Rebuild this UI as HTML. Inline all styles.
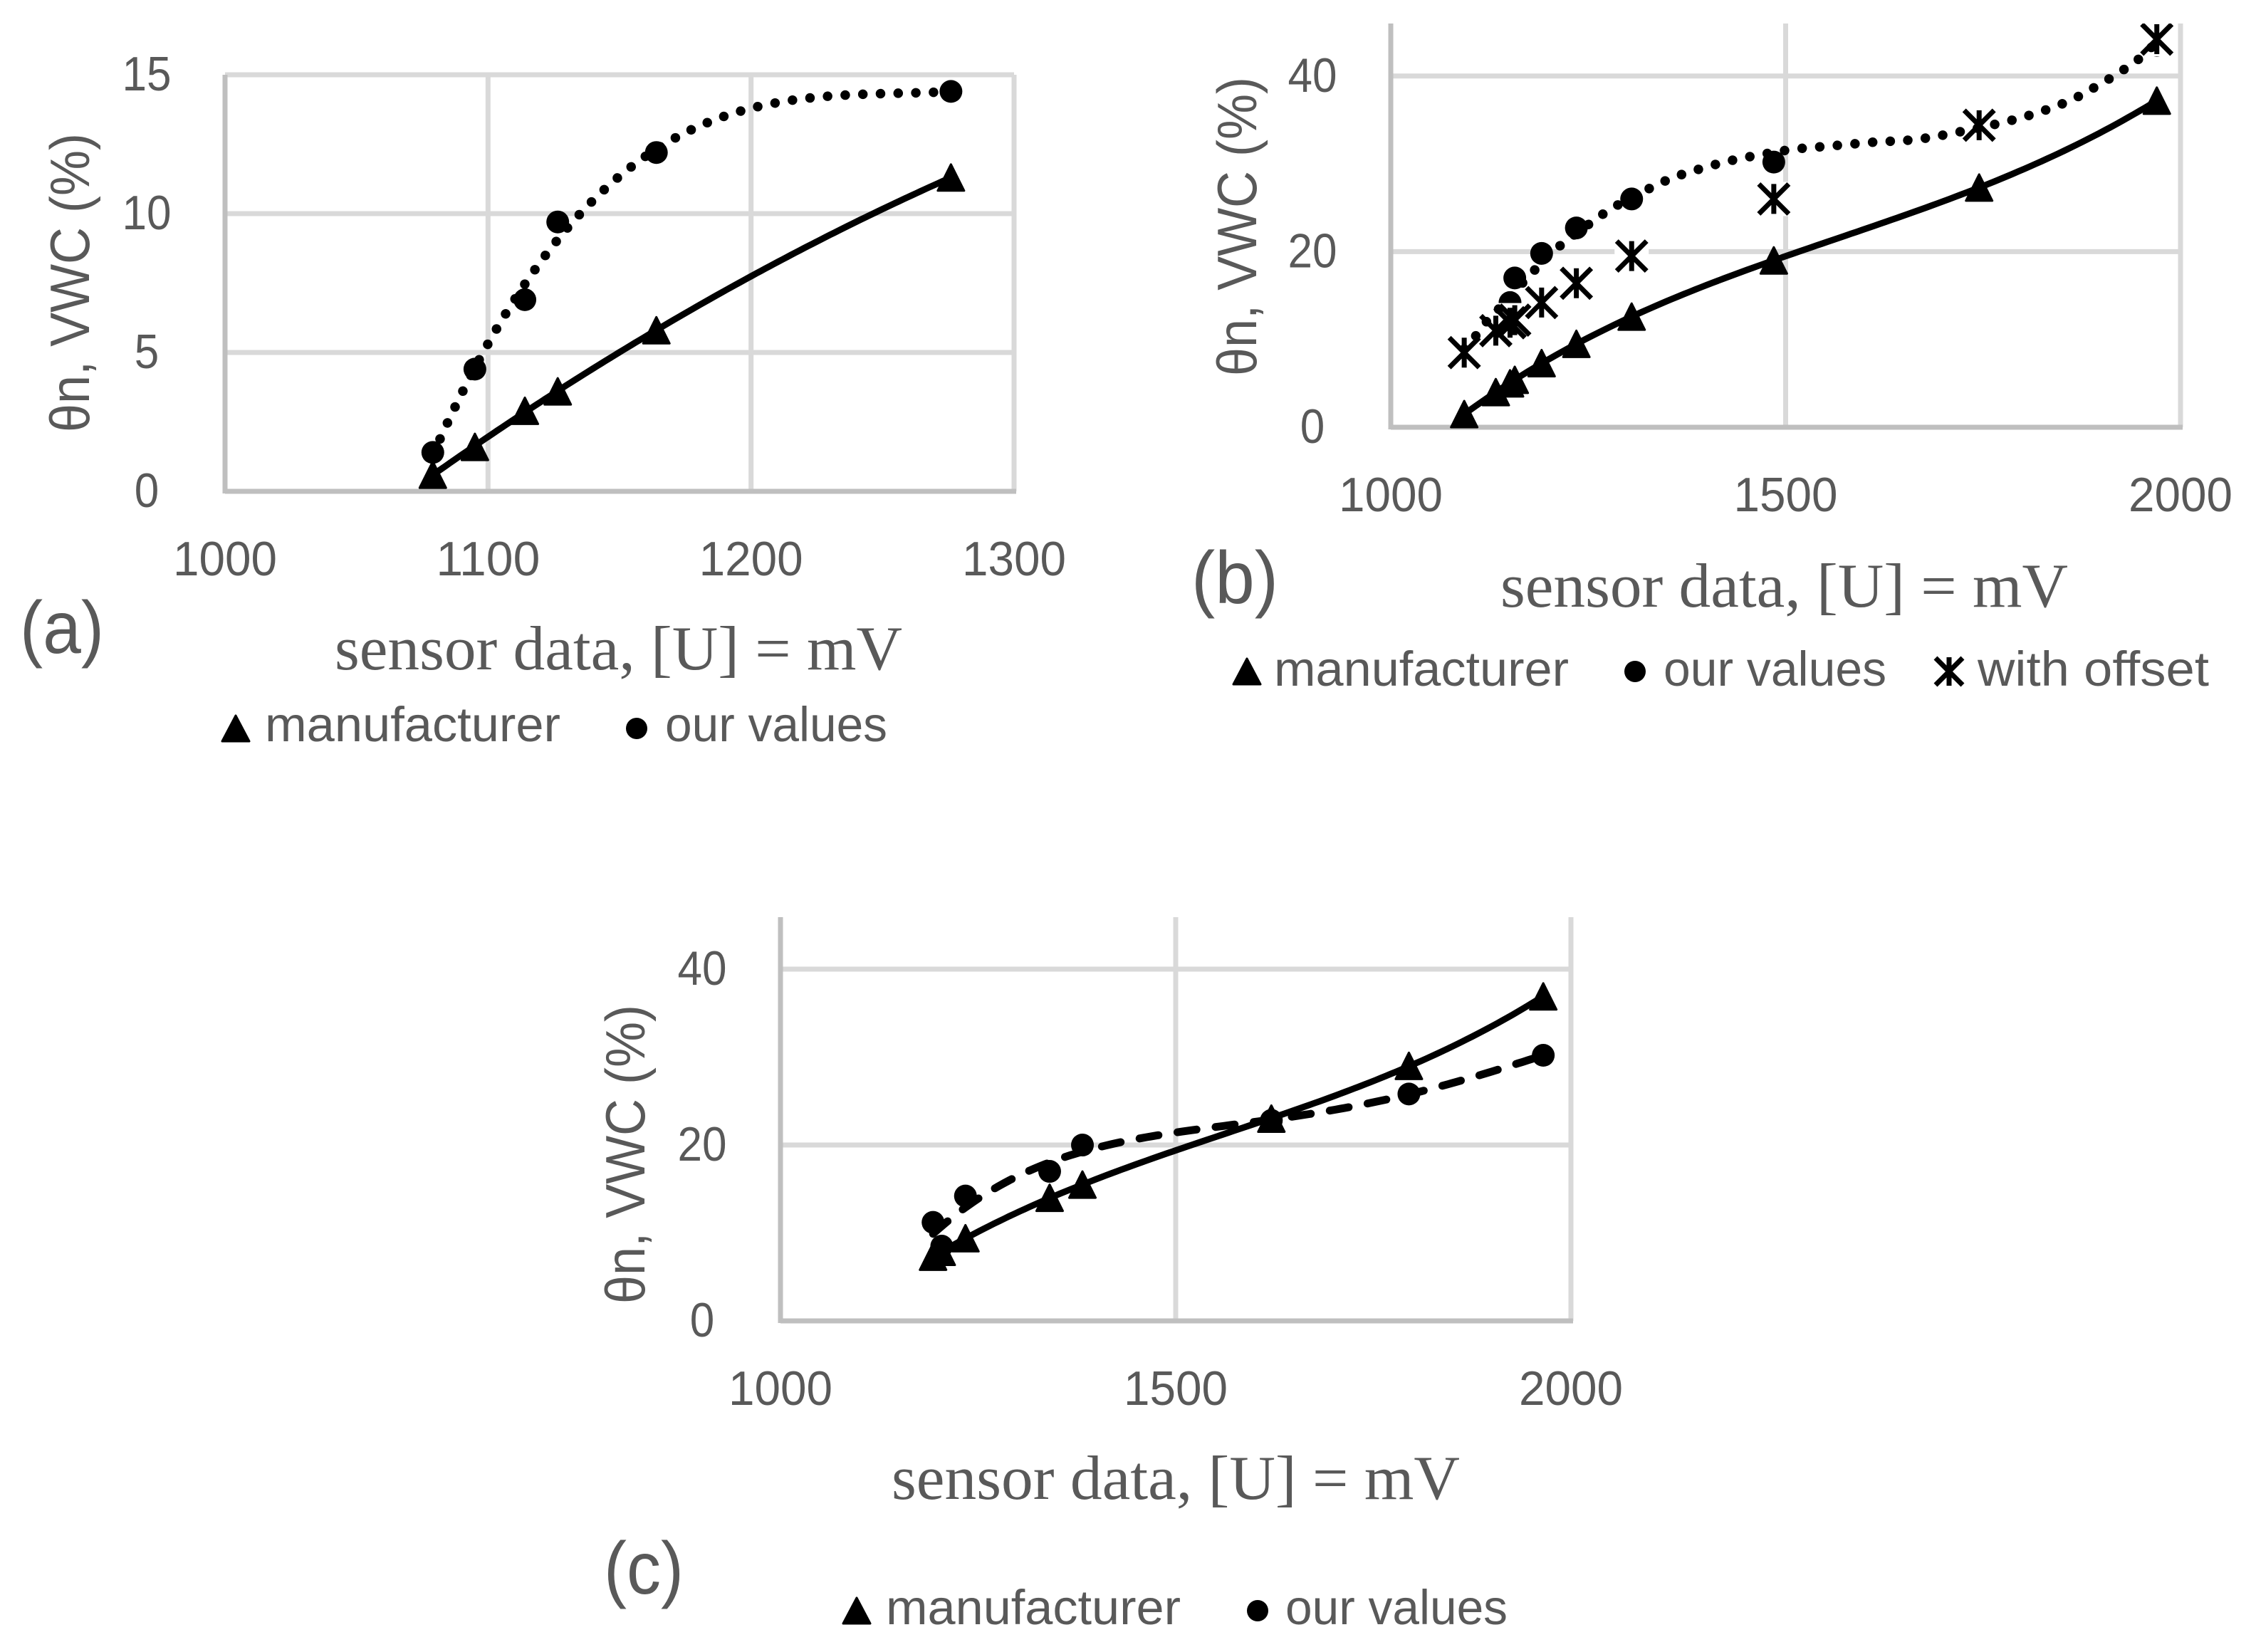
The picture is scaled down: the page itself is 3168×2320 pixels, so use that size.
<!DOCTYPE html>
<html lang="en">
<head>
<meta charset="utf-8">
<title>Sensor calibration charts</title>
<style>
  html, body { margin: 0; padding: 0; background: #ffffff; }
  svg { display: block; }
  text { fill: #595959; font-family: "Liberation Sans", sans-serif; }
  .serif { font-family: "Liberation Serif", serif; font-size: 88px; }
  .tick { font-size: 68px; }
  .legend { font-size: 69px; }
  .ylab { font-size: 78px; }
  .panel { font-size: 104px; }
</style>
</head>
<body>
<svg id="figure" xmlns="http://www.w3.org/2000/svg" width="3168" height="2320" viewBox="0 0 3168 2320">
  <rect width="3168" height="2320" fill="#ffffff"/>

  <g id="chart-a"></g>
  <g id="chart-b"></g>
  <g id="chart-c"></g>

  <!-- Panel a text -->
  <text class="ylab" transform="translate(125,397) rotate(-90)" text-anchor="middle" textLength="420" lengthAdjust="spacingAndGlyphs">θn, VWC (%)</text>
  <text class="panel" x="28" y="917" textLength="118" lengthAdjust="spacingAndGlyphs">(a)</text>
  <text class="serif" x="470" y="940" textLength="797" lengthAdjust="spacingAndGlyphs">sensor data, [U] = mV</text>
  <g>
    <path d="M331 1005 L350 1041 L312 1041 Z" fill="#000" stroke="#000" stroke-width="3" stroke-linejoin="round"/>
    <text class="legend" x="372" y="1041" textLength="415" lengthAdjust="spacingAndGlyphs">manufacturer</text>
    <circle cx="894" cy="1023" r="15" fill="#000"/>
    <text class="legend" x="934" y="1041" textLength="312" lengthAdjust="spacingAndGlyphs">our values</text>
  </g>

  <!-- Panel b text -->
  <text class="ylab" transform="translate(1764,318) rotate(-90)" text-anchor="middle" textLength="420" lengthAdjust="spacingAndGlyphs">θn, VWC (%)</text>
  <text class="panel" x="1673" y="847" textLength="122" lengthAdjust="spacingAndGlyphs">(b)</text>
  <text class="serif" x="2107" y="852" textLength="797" lengthAdjust="spacingAndGlyphs">sensor data, [U] = mV</text>
  <g>
    <path d="M1751 925 L1770 961 L1732 961 Z" fill="#000" stroke="#000" stroke-width="3" stroke-linejoin="round"/>
    <text class="legend" x="1789" y="963" textLength="414" lengthAdjust="spacingAndGlyphs">manufacturer</text>
    <circle cx="2296" cy="943" r="15" fill="#000"/>
    <text class="legend" x="2336" y="963" textLength="313" lengthAdjust="spacingAndGlyphs">our values</text>
    <path d="M2737 923 V963 M2718 924 L2756 962 M2756 924 L2718 962" fill="none" stroke="#000" stroke-width="7"/>
    <text class="legend" x="2777" y="963" textLength="325" lengthAdjust="spacingAndGlyphs">with offset</text>
  </g>

  <!-- Panel c text -->
  <text class="ylab" transform="translate(905,1621) rotate(-90)" text-anchor="middle" textLength="420" lengthAdjust="spacingAndGlyphs">θn, VWC (%)</text>
  <text class="panel" x="848" y="2238" textLength="112" lengthAdjust="spacingAndGlyphs">(c)</text>
  <text class="serif" x="1252" y="2105" textLength="798" lengthAdjust="spacingAndGlyphs">sensor data, [U] = mV</text>
  <g>
    <path d="M1203 2244 L1222 2280 L1184 2280 Z" fill="#000" stroke="#000" stroke-width="3" stroke-linejoin="round"/>
    <text class="legend" x="1244" y="2281" textLength="414" lengthAdjust="spacingAndGlyphs">manufacturer</text>
    <circle cx="1766" cy="2262" r="15" fill="#000"/>
    <text class="legend" x="1805" y="2281" textLength="312" lengthAdjust="spacingAndGlyphs">our values</text>
  </g>
</svg>

<script>
// ---- Panel (a) data ----
const voltageA = [1079, 1095, 1114, 1126.5, 1164, 1276];
const manufacturerA = [0.6, 1.6, 2.9, 3.6, 5.8, 11.3];
const ourValuesA = [1.4, 4.4, 6.9, 9.7, 12.2, 14.4];
const xTicksA = [1000, 1100, 1200, 1300];
const yTicksA = [0, 5, 10, 15];

// ---- Panel (b) data ----
const voltageB = [1093, 1133, 1151, 1157, 1191, 1235, 1305, 1485, 1745, 1970];
const manufacturerB = [1.5, 4.0, 5.0, 5.4, 7.3, 9.5, 12.6, 19.0, 27.3, 37.2];
const ourValuesB = [8.5, 11.5, 14.2, 17.0, 19.8, 22.7, 26.0, 30.2, 34.4, 43.5];
const withOffsetB = [8.5, 11.0, 11.9, 12.2, 14.2, 16.4, 19.5, 26.0, 34.4, 44.2];
const ourTrendVoltageB = [1093, 1105, 1119, 1134, 1180, 1212, 1266, 1285, 1346, 1387, 1432, 1478, 1514, 1565, 1615, 1656, 1701, 1788, 1852, 1893, 1931, 1952, 1970];
const ourTrendValuesB = [8.9, 10.1, 11.8, 13.2, 17.7, 20.5, 24.1, 25.2, 28.0, 29.3, 30.4, 31.2, 31.7, 32.1, 32.5, 32.7, 33.3, 35.0, 36.9, 38.8, 40.9, 42.3, 43.9];
const xTicksB = [1000, 1500, 2000];
const yTicksB = [0, 20, 40];

// ---- Panel (c) data ----
const voltageC = [1193, 1204, 1234, 1340.5, 1382, 1621, 1795, 1965];
const manufacturerC = [7.3, 7.85, 9.4, 14.0, 15.5, 23.0, 29.0, 36.9];
const ourValuesC = [11.2, 8.5, 14.2, 17.0, 20.0, 22.8, 25.8, 30.2];
const xTicksC = [1000, 1500, 2000];
const yTicksC = [0, 20, 40];

const SVG_NS = 'http://www.w3.org/2000/svg';

function make(tag, attrs, parent) {
  const el = document.createElementNS(SVG_NS, tag);
  for (const k in attrs) el.setAttribute(k, attrs[k]);
  parent.appendChild(el);
  return el;
}

// Least-squares polynomial trendline, computed from the series
function polyFit(xs, ys, degree) {
  const mean = xs.reduce((a, b) => a + b, 0) / xs.length;
  const span = (Math.max(...xs) - Math.min(...xs)) || 1;
  const n = degree + 1;
  const m = [];
  for (let i = 0; i < n; i++) {
    m.push(new Array(n + 1).fill(0));
    for (let j = 0; j < n; j++) {
      xs.forEach(x => { m[i][j] += Math.pow((x - mean) / span, i + j); });
    }
    xs.forEach((x, k) => { m[i][n] += ys[k] * Math.pow((x - mean) / span, i); });
  }
  for (let c = 0; c < n; c++) {
    let p = c;
    for (let r = c + 1; r < n; r++) if (Math.abs(m[r][c]) > Math.abs(m[p][c])) p = r;
    const t = m[c]; m[c] = m[p]; m[p] = t;
    for (let r = 0; r < n; r++) {
      if (r === c) continue;
      const f = m[r][c] / m[c][c];
      for (let k = c; k <= n; k++) m[r][k] -= f * m[c][k];
    }
  }
  const coef = m.map((row, i) => row[n] / row[i]);
  return x => coef.reduce((s, a, i) => s + a * Math.pow((x - mean) / span, i), 0);
}

function trendPath(xs, ys, degree, sx, sy) {
  const f = polyFit(xs, ys, degree);
  const lo = Math.min(...xs), hi = Math.max(...xs);
  let d = '';
  for (let i = 0; i <= 120; i++) {
    const x = lo + (hi - lo) * i / 120;
    d += (i ? ' L' : 'M') + sx(x).toFixed(1) + ' ' + sy(f(x)).toFixed(1);
  }
  return d;
}

// Smooth curve through trendline values
function smoothPath(xs, ys, sx, sy) {
  const pts = xs.map((x, i) => [sx(x), sy(ys[i])]);
  let d = 'M' + pts[0][0].toFixed(1) + ' ' + pts[0][1].toFixed(1);
  for (let i = 0; i < pts.length - 1; i++) {
    const p0 = pts[Math.max(i - 1, 0)], p1 = pts[i], p2 = pts[i + 1], p3 = pts[Math.min(i + 2, pts.length - 1)];
    const c1x = p1[0] + (p2[0] - p0[0]) / 6, c1y = p1[1] + (p2[1] - p0[1]) / 6;
    const c2x = p2[0] - (p3[0] - p1[0]) / 6, c2y = p2[1] - (p3[1] - p1[1]) / 6;
    d += ' C' + c1x.toFixed(1) + ' ' + c1y.toFixed(1) + ' ' + c2x.toFixed(1) + ' ' + c2y.toFixed(1) + ' ' + p2[0].toFixed(1) + ' ' + p2[1].toFixed(1);
  }
  return d;
}

function drawAxes(g, o) {
  o.xTicks.forEach((v, i) => {
    if (i > 0) {
      const line = make('line', { x1: o.sx(v), x2: o.sx(v), y1: o.top, y2: o.bottom, stroke: '#d9d9d9', 'stroke-width': 7 }, g);
      
      
    }
    const label = make('text', { x: o.sx(v), y: o.bottom + 118, 'text-anchor': 'middle', class: 'tick', textLength: 146, lengthAdjust: 'spacingAndGlyphs' }, g);
    
    
    label.textContent = v;
  });
  o.yTicks.forEach((v, i) => {
    if (i > 0) {
      const line = make('line', { x1: o.left, x2: o.right, y1: o.sy(v), y2: o.sy(v), stroke: '#d9d9d9', 'stroke-width': 7 }, g);
      
      
    }
    const s = String(v);
    const label = make('text', { x: o.left - 110, y: o.sy(v) + 22, 'text-anchor': 'middle', class: 'tick', textLength: 34.5 * s.length, lengthAdjust: 'spacingAndGlyphs' }, g);
    
    
    label.textContent = s;
  });
  const yAxis = make('line', { x1: o.left, x2: o.left, y1: o.top, y2: o.bottom + 3, stroke: '#bfbfbf', 'stroke-width': 7 }, g);
  
  
  const xAxis = make('line', { x1: o.left, x2: o.right + 3, y1: o.bottom, y2: o.bottom, stroke: '#bfbfbf', 'stroke-width': 7 }, g);
  
  
}

function drawManufacturerLine(g, d) {
  const el = make('path', { d: d, fill: 'none', stroke: '#000', 'stroke-width': 9, 'stroke-linecap': 'round' }, g);
  
  
}

function drawOurLine(g, d, dash) {
  const attrs = { d: d, fill: 'none', stroke: '#000', 'stroke-linecap': 'round' };
  attrs['stroke-width'] = dash === 'dotted' ? 13.5 : 11;
  attrs['stroke-dasharray'] = dash === 'dotted' ? '0.01 24.8' : '27 27';
  const el = make('path', attrs, g);
  
  
}

function drawTriangles(g, xs, ys, o) {
  xs.forEach((x, i) => {
    const px = o.sx(x), py = o.sy(ys[i]);
    const el = make('path', {
      d: 'M' + px + ' ' + (py - 18.5) + ' L' + (px + 18.5) + ' ' + (py + 18.5) + ' L' + (px - 18.5) + ' ' + (py + 18.5) + ' Z',
      fill: '#000', stroke: '#000', 'stroke-width': 3, 'stroke-linejoin': 'round'
    }, g);
    
    
  });
}

function drawCircles(g, xs, ys, o) {
  xs.forEach((x, i) => {
    const el = make('circle', { cx: o.sx(x), cy: o.sy(ys[i]), r: 16, fill: '#000' }, g);
    
    
  });
}

// The asterisk markers sit on white squares that mask circles and gridlines beneath them
function drawStarBackings(g, xs, ys, o) {
  xs.forEach((x, i) => {
    const el = make('rect', { x: o.sx(x) - 24, y: o.sy(ys[i]) - 24, width: 48, height: 48, fill: '#fff' }, g);
    
    
  });
}

function drawStars(g, xs, ys, o) {
  xs.forEach((x, i) => {
    const px = o.sx(x), py = o.sy(ys[i]);
    const el = make('path', {
      d: 'M' + px + ' ' + (py - 21) + ' V' + (py + 21) +
         ' M' + (px - 21) + ' ' + (py - 21) + ' L' + (px + 21) + ' ' + (py + 21) +
         ' M' + (px + 21) + ' ' + (py - 21) + ' L' + (px - 21) + ' ' + (py + 21),
      fill: 'none', stroke: '#000', 'stroke-width': 7
    }, g);
    
    
  });
}

function setupPanel(id, layout, xTicks, yTicks) {
  const g = document.getElementById(id);
  const xMin = xTicks[0], xMax = xTicks[xTicks.length - 1];
  const o = Object.assign({}, layout, { xTicks: xTicks, yTicks: yTicks });
  o.sx = v => layout.left + (v - xMin) * (layout.right - layout.left) / (xMax - xMin);
  o.sy = v => layout.bottom - (v * layout.yUnit);
  drawAxes(g, o);
  const clip = make('clipPath', { id: id + '-clip' }, g);
  make('rect', { x: layout.left, y: layout.top, width: layout.right - layout.left + 10, height: layout.bottom - layout.top + 5 }, clip);
  const plot = make('g', { 'clip-path': 'url(#' + id + '-clip)' }, g);
  
  
  o.plot = plot;
  return o;
}

// Panel (a)
const pa = setupPanel('chart-a', { left: 316, right: 1424, top: 105, bottom: 690, yUnit: 39 }, xTicksA, yTicksA);
drawTriangles(pa.plot, voltageA, manufacturerA, pa);
drawCircles(pa.plot, voltageA, ourValuesA, pa);
drawManufacturerLine(pa.plot, trendPath(voltageA, manufacturerA, 2, pa.sx, pa.sy));
drawOurLine(pa.plot, trendPath(voltageA, ourValuesA, 3, pa.sx, pa.sy), 'dotted');

// Panel (b)
const pb = setupPanel('chart-b', { left: 1953, right: 3062, top: 33, bottom: 600, yUnit: 12.33 }, xTicksB, yTicksB);
drawTriangles(pb.plot, voltageB, manufacturerB, pb);
drawCircles(pb.plot, voltageB, ourValuesB, pb);
drawStarBackings(pb.plot, voltageB, withOffsetB, pb);
drawManufacturerLine(pb.plot, trendPath(voltageB, manufacturerB, 4, pb.sx, pb.sy));
drawOurLine(pb.plot, smoothPath(ourTrendVoltageB, ourTrendValuesB, pb.sx, pb.sy), 'dotted');
drawStars(pb.plot, voltageB, withOffsetB, pb);

// Panel (c)
const pc = setupPanel('chart-c', { left: 1096, right: 2206, top: 1288, bottom: 1855, yUnit: 12.35 }, xTicksC, yTicksC);
drawTriangles(pc.plot, voltageC, manufacturerC, pc);
drawCircles(pc.plot, voltageC, ourValuesC, pc);
drawManufacturerLine(pc.plot, trendPath(voltageC, manufacturerC, 3, pc.sx, pc.sy));
drawOurLine(pc.plot, trendPath(voltageC, ourValuesC, 4, pc.sx, pc.sy), 'dashed');
</script>
</body>
</html>
